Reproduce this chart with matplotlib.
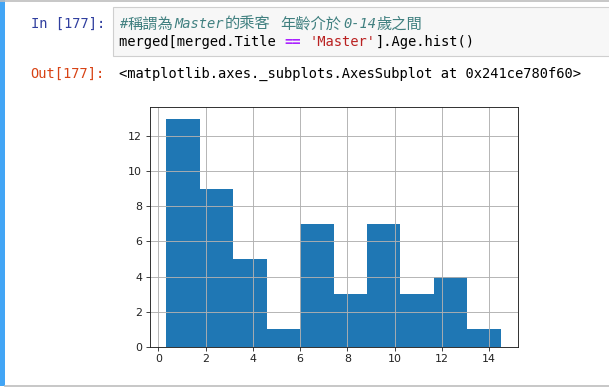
import matplotlib.pyplot as plt
import matplotlib.patches as mpatches
import numpy as np

# notebook cell texts
prompt_in = "In [177]:"
prompt_out = "Out[177]:"
comment_line = "#稱謂為Master的乘客 年齡介於0-14歲之間"
code_tokens = [("merged[merged.Title ", "#000000", "normal"),
               ("==", "#AA22FF", "bold"),
               (" ", "#000000", "normal"),
               ("'Master'", "#BA2121", "normal"),
               ("].Age.hist()", "#000000", "normal")]
out_text = "<matplotlib.axes._subplots.AxesSubplot at 0x241ce780f60>"

# histogram of Age for Title == 'Master' (10 bins)
age_min, age_max = 0.33, 14.5
counts = [13, 9, 5, 1, 7, 3, 7, 3, 4, 1]
xticks = [0, 2, 4, 6, 8, 10, 12, 14]
yticks = [0, 2, 4, 6, 8, 10, 12]

W, H = 609, 390
fig = plt.figure(figsize=(W / 100, H / 100), dpi=100)
fig.patch.set_facecolor("white")

# background axes in pixel coordinates
bg = fig.add_axes([0, 0, 1, 1])
bg.set_xlim(0, W)
bg.set_ylim(H, 0)
bg.axis("off")

bg.add_patch(mpatches.Rectangle((0, 0), 5, 386, color="#42A5F5", lw=0))
bg.plot([0, W], [0.5, 0.5], color="#BDBDBD", lw=1.2)
bg.plot([5, W], [385.5, 385.5], color="#BDBDBD", lw=1.2)
bg.add_patch(mpatches.Rectangle((113, 7), W - 112, 49, facecolor="#F7F7F7",
                                edgecolor="#CFCFCF", lw=0.8))

mono = "DejaVu Sans Mono"
cjk = "Noto Sans CJK TC"
fs = 9.9
cw = 8.27   # pixel width of one monospace cell
cjk_w = 15.8  # pixel width of one CJK glyph

bg.text(31, 24, prompt_in, color="#303F9F", fontsize=fs, family=mono, va="center")
bg.text(30, 74, prompt_out, color="#D84315", fontsize=fs, family=mono, va="center")

# comment: split into ascii / CJK runs so widths follow the notebook font
runs = []
for ch in comment_line:
    is_cjk = ord(ch) > 0x2E80
    if runs and runs[-1][1] == is_cjk:
        runs[-1][0] += ch
    else:
        runs.append([ch, is_cjk])
x = 119
for seg, is_cjk in runs:
    if is_cjk:
        bg.text(x, 24, seg, color="#408080", fontsize=11, family=[cjk], va="center")
        x += len(seg) * cjk_w
    else:
        bg.text(x, 24, seg, color="#408080", fontsize=fs, style="italic",
                family=[mono], va="center")
        x += len(seg) * cw

x = 119
for tok, col, wt in code_tokens:
    bg.text(x, 42, tok, color=col, fontsize=fs, family=mono, weight=wt, va="center")
    x += len(tok) * cw

bg.text(119, 74, out_text, color="#000000", fontsize=fs, family=mono, va="center")

# histogram axes
left, right, top, bottom = 149.5, 517.5, 107.3, 346.7
ax = fig.add_axes([left / W, (H - bottom) / H, (right - left) / W, (bottom - top) / H])
edges = np.linspace(age_min, age_max, len(counts) + 1)
ax.hist(edges[:-1], bins=edges, weights=counts, color="#1f77b4")
ax.grid(True, color="#b0b0b0", lw=0.65)
ax.set_xticks(xticks)
ax.set_yticks(yticks)
ax.tick_params(labelsize=7.9, length=2.8, width=0.6, colors="#222222", pad=2.5)
for sp in ax.spines.values():
    sp.set_linewidth(0.65)
    sp.set_color("#222222")

fig.savefig("out.png", dpi=100)
